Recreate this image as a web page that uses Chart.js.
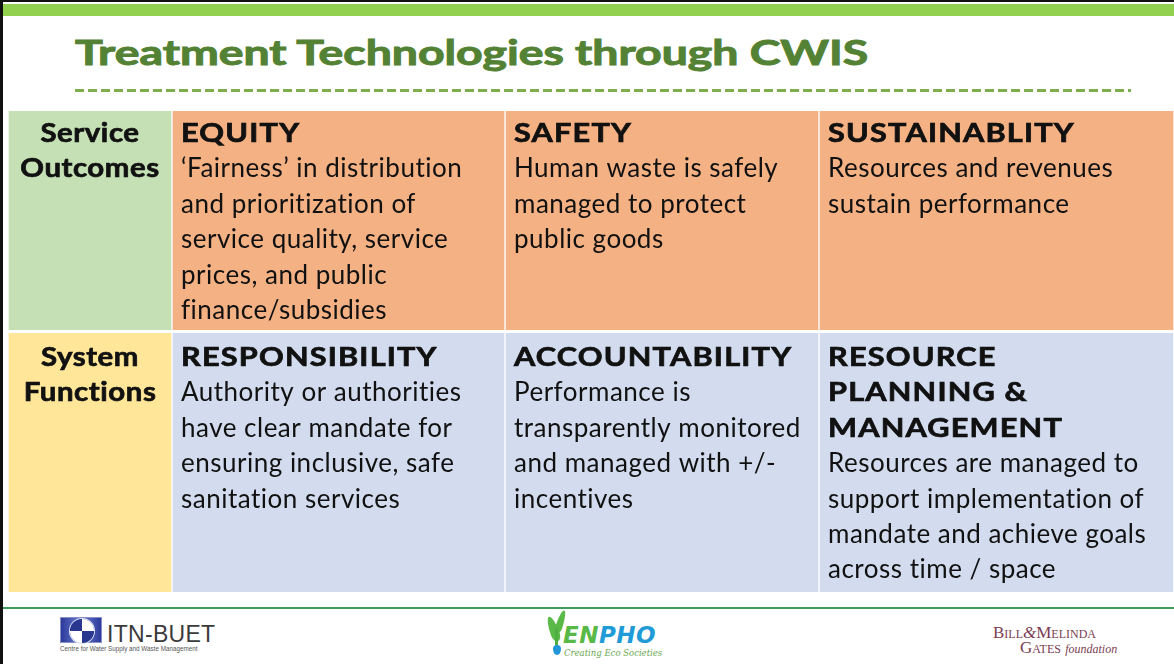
<!DOCTYPE html>
<html lang="en">
<head>
<meta charset="UTF-8">
<title>Treatment Technologies through CWIS</title>
<script src="https://cdn.jsdelivr.net/npm/chart.js"></script>
<style>
  * { margin: 0; padding: 0; box-sizing: border-box; }
  body { width: 1174px; height: 664px; overflow: hidden; background: #fff; position: relative; font-family: 'Lato', sans-serif; }
  .frame { position: absolute; left: 0; top: 0; width: 1174px; height: 664px; border-left: 3px solid #111; border-top: 2px solid #111; }
  .top-bar { position: absolute; left: 3px; top: 4px; right: 0; height: 12px; background: #92d050; }
  .title { position: absolute; left: 75px; top: 30px; font-weight: bold; font-size: 35px; color: #548235; white-space: nowrap;
           transform-origin: left top; -webkit-text-stroke: 1px #548235; }
  .dash { position: absolute; left: 75px; top: 89px; width: 1056px; height: 3px;
          background: repeating-linear-gradient(90deg, #7fae4e 0 9px, transparent 9px 13px); }
  .row { position: absolute; left: 8px; width: 1166px; }
  #row0 { top: 111px; height: 219px; }
  #row1 { top: 333px; height: 259px; }
  .footer-line { position: absolute; left: 3px; right: 0; top: 607px; height: 2px; background: #3d9b5c; }

  /* footer logos */
  .itn-icon { position: absolute; left: 60px; top: 617px; width: 42px; height: 26px;
              background: linear-gradient(90deg, #2b3a9a, #6f7fd0 50%, #2b3a9a); border: 1px solid #8890c8; }
  .itn-icon .disc { position: absolute; left: 9px; top: 1px; width: 24px; height: 24px; border-radius: 50%;
                    background: conic-gradient(#fff 0 90deg, #2a3790 90deg 180deg, #fff 180deg 270deg, #2a3790 270deg);
                    box-shadow: 0 0 0 1px #dfe3f6; }
  .itn-name { position: absolute; left: 107px; top: 621px; font-family: 'Liberation Sans', sans-serif; font-size: 23px; color: #3b3b3b; letter-spacing: 0.3px; }
  .itn-sub { position: absolute; left: 60px; top: 645px; font-family: 'Liberation Sans', sans-serif; font-size: 6.3px; color: #555; white-space: nowrap; }
  .leaf { position: absolute; border-radius: 50% 50% 50% 50% / 70% 70% 30% 30%; background: #5bb947; }
  .drop { position: absolute; left: 553px; top: 645px; width: 8px; height: 10px; border-radius: 50% 50% 50% 50% / 40% 40% 60% 60%; background: #2196d8; }
  .stem { position: absolute; left: 555px; top: 628px; width: 3px; height: 18px; background: #4fae43; border-radius: 2px; }
  .enpho { position: absolute; left: 563px; top: 622px; font-family: 'DejaVu Sans', sans-serif; font-weight: bold; font-style: italic; font-size: 23px; letter-spacing: 0.5px; }
  .enpho .g { color: #58b947; }
  .enpho .b { color: #1f9bd7; }
  .enpho-sub { position: absolute; left: 564px; top: 648px; font-family: 'DejaVu Serif', serif; font-style: italic; font-size: 8.5px; color: #6aa84f; white-space: nowrap; }
  .gates { position: absolute; font-family: 'Liberation Serif', serif; color: #7b3d52; white-space: nowrap; font-variant: small-caps; }
  .gates i { font-variant: normal; }
</style>
</head>
<body>
  <div class="frame"></div>
  <div class="top-bar"></div>
  <div class="title" id="title">Treatment Technologies through CWIS</div>
  <div class="dash"></div>

  <div class="row" id="row0"><canvas id="chart0"></canvas></div>
  <div class="row" id="row1"><canvas id="chart1"></canvas></div>

  <div class="footer-line"></div>
  <div class="itn-icon"><div class="disc"></div></div>
  <div class="itn-name">ITN-BUET</div>
  <div class="itn-sub">Centre for Water Supply and Waste Management</div>
  <div class="leaf" style="left:549px; top:616px; width:9px; height:26px; transform: rotate(-20deg);"></div>
  <div class="leaf" style="left:557px; top:610px; width:7px; height:24px; transform: rotate(18deg);"></div>
  <div class="stem"></div>
  <div class="drop"></div>
  <div class="enpho"><span class="g">EN</span><span class="b">PHO</span></div>
  <div class="enpho-sub">Creating Eco Societies</div>
  <div class="gates" style="left:993px; top:623px; font-size:17px;">Bill<i>&amp;</i>Melinda</div>
  <div class="gates" style="left:1020px; top:638px; font-size:17px;">Gates <i style="font-size:12px;">foundation</i></div>

  <script>
    // table content
    const rowLabels = [['Service', 'Outcomes'], ['System', 'Functions']];
    const colShare = [164, 333, 314, 355];
    const headLines = [
      [['EQUITY'], ['SAFETY'], ['SUSTAINABLITY']],
      [['RESPONSIBILITY'], ['ACCOUNTABILITY'], ['RESOURCE', 'PLANNING &', 'MANAGEMENT']]
    ];
    const bodyLines = [
      [
        ['\u2018Fairness\u2019 in distribution', 'and prioritization of', 'service quality, service', 'prices, and public', 'finance/subsidies'],
        ['Human waste is safely', 'managed to protect', 'public goods'],
        ['Resources and revenues', 'sustain performance']
      ],
      [
        ['Authority or authorities', 'have clear mandate for', 'ensuring inclusive, safe', 'sanitation services'],
        ['Performance is', 'transparently monitored', 'and managed with +/-', 'incentives'],
        ['Resources are managed to', 'support implementation of', 'mandate and achieve goals', 'across time / space']
      ]
    ];
    const labelFills = ['#c5e0b4', '#ffe699'];
    const cellFills = ['#f4b183', '#d3dcee'];

    const lineGap = 35.4;

    // draws one line with a horizontal stretch (the slide font is wider than Lato)
    function stretchText(ctx, text, x, y, sx, align, heavy) {
      ctx.save();
      ctx.translate(x, y);
      ctx.scale(sx, 1);
      ctx.textAlign = align;
      ctx.fillText(text, 0, 0);
      if (heavy) {
        ctx.lineWidth = 0.7;
        ctx.strokeText(text, 0, 0);
      }
      ctx.restore();
    }

    const cellText = {
      id: 'cellText',
      afterDatasetsDraw(chart, args, opts) {
        const ctx = chart.ctx;
        const r = opts.row;
        ctx.save();
        ctx.fillStyle = '#111';
        ctx.strokeStyle = '#111';
        ctx.textBaseline = 'alphabetic';
        chart.data.datasets.forEach((ds, i) => {
          const bar = chart.getDatasetMeta(i).data[0];
          const left = Math.min(bar.base, bar.x);
          const right = Math.max(bar.base, bar.x);
          let y = bar.y - bar.height / 2 + opts.firstLine;
          if (i === 0) {
            ctx.font = 'bold 26px Lato';
            ctx.letterSpacing = '0.5px';
            rowLabels[r].forEach(t => { stretchText(ctx, t, (left + right) / 2, y, 1.13, 'center', true); y += lineGap; });
            return;
          }
          ctx.font = 'bold 26px Lato';
          ctx.letterSpacing = '1px';
          headLines[r][i - 1].forEach(t => { stretchText(ctx, t, left + 9, y, 1.18, 'left', true); y += lineGap; });
          ctx.font = '26px Lato';
          ctx.letterSpacing = '0.5px';
          bodyLines[r][i - 1].forEach(t => { stretchText(ctx, t, left + 9, y, 1, 'left', false); y += lineGap; });
        });
        ctx.restore();
      }
    };

    function makeRow(id, r, firstLine) {
      const datasets = colShare.map((v, i) => ({
        label: i === 0 ? rowLabels[r].join(' ') : headLines[r][i - 1].join(' '),
        data: [v],
        backgroundColor: i === 0 ? labelFills[r] : cellFills[r],
        borderColor: '#ffffff',
        borderWidth: { left: 1, right: 1, top: 0, bottom: 0 },
        borderSkipped: false,
        barPercentage: 1,
        categoryPercentage: 1
      }));
      return new Chart(document.getElementById(id), {
        type: 'bar',
        data: { labels: [rowLabels[r].join(' ')], datasets },
        options: {
          indexAxis: 'y',
          responsive: true,
          maintainAspectRatio: false,
          animation: false,
          layout: { padding: 0 },
          scales: {
            x: { stacked: true, display: false, min: 0, max: colShare.reduce((a, b) => a + b, 0) },
            y: { stacked: true, display: false }
          },
          plugins: {
            legend: { display: false },
            tooltip: { enabled: false },
            cellText: { row: r, firstLine }
          }
        },
        plugins: [cellText]
      });
    }

    makeRow('chart0', 0, 31);
    makeRow('chart1', 1, 33);

    // stretch the title to the slide's width
    const title = document.getElementById('title');
    title.style.transform = 'scaleX(' + (793 / title.offsetWidth) + ')';
  </script>
</body>
</html>
